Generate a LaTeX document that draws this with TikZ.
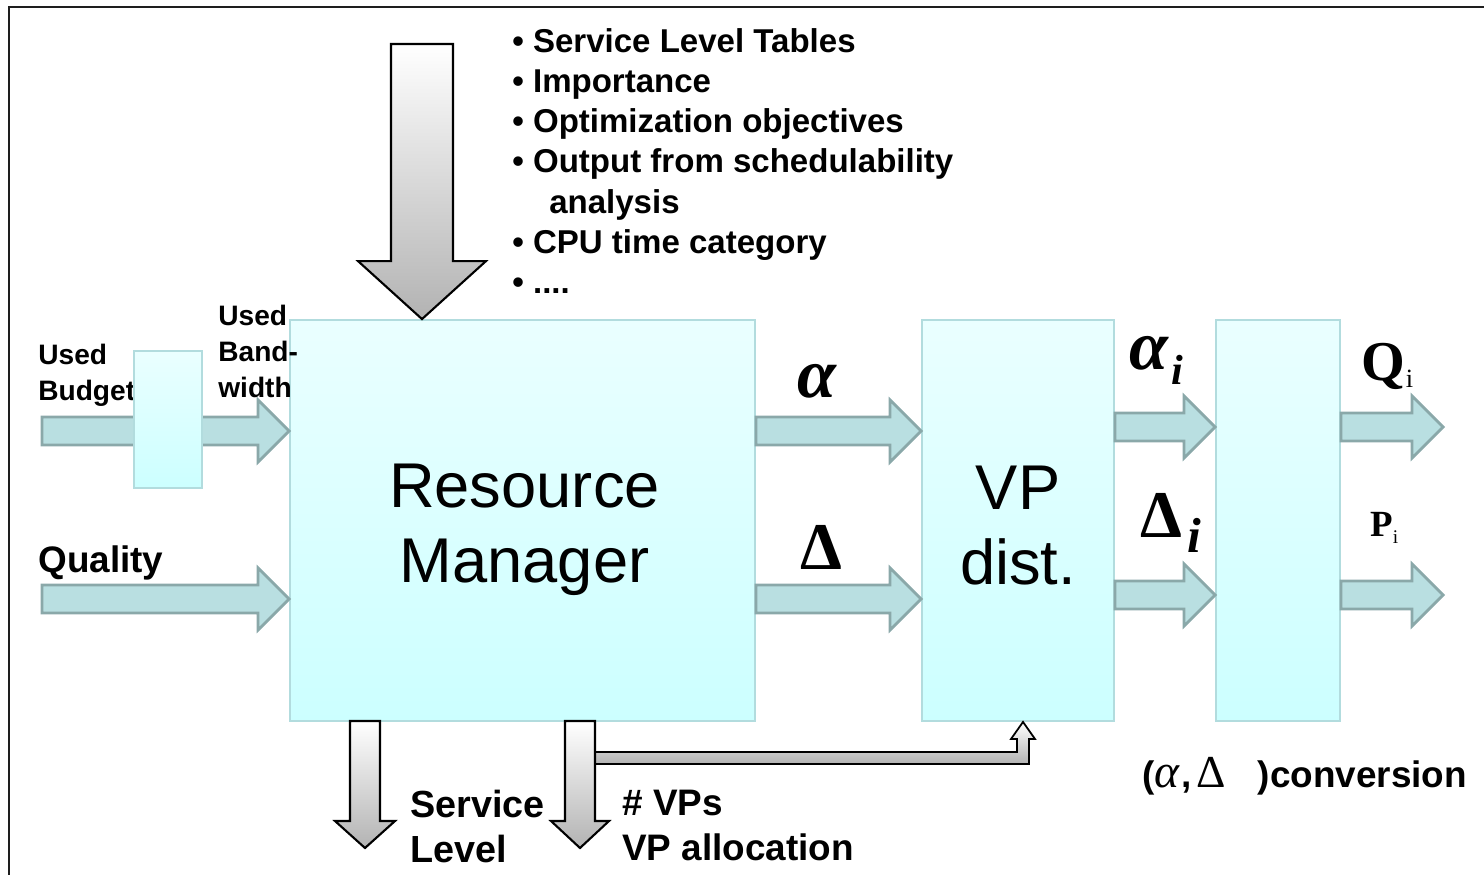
\documentclass[tikz,border=0pt]{standalone}
\usepackage{fontspec}
\setmainfont{Liberation Sans}
\newfontfamily\tms{Liberation Serif}
\usepackage{tikz}
\usetikzlibrary{arrows.meta, calc, positioning}
\definecolor{rm-top}{HTML}{EAFFFF}
\definecolor{rm-bot}{HTML}{CCFFFF}
\definecolor{rm-line}{HTML}{B2DCDE}
\definecolor{flow-fill}{HTML}{B9DFE1}
\definecolor{flow-line}{HTML}{8AA8A9}
\definecolor{frame-ink}{HTML}{1E1E1E}

% fat arrow to the right: #1 start, #2 tip
\newcommand{\blockright}[2]{%
  \draw[flowarrow] ($(#1)+(0,-14)$) -- ($(#2)+(-31,-14)$) -- ($(#2)+(-31,-31)$) -- (#2)
    -- ($(#2)+(-31,31)$) -- ($(#2)+(-31,14)$) -- ($(#1)+(0,14)$) -- cycle;}
% fat arrow downwards: #1 start, #2 tip, #3 shaft, #4 head, #5 head length
\newcommand{\blockdown}[5]{%
  \draw[greyarrow] ($(#1)+(-#3,0)$) -- ($(#2)+(-#3,-#5)$) -- ($(#2)+(-#4,-#5)$) -- (#2)
    -- ($(#2)+(#4,-#5)$) -- ($(#2)+(#3,-#5)$) -- ($(#1)+(#3,0)$) -- cycle;}

\begin{document}
\begin{tikzpicture}[x=0.02cm, y=-0.02cm, line join=miter,
    box/.style={draw=rm-line, line width=1.1pt, top color=rm-top, bottom color=rm-bot,
      inner sep=0pt, align=center},
    boxtext/.style={inner sep=0pt, align=center, font=\fontsize{36}{42.5}\selectfont},
    flowarrow/.style={draw=flow-line, line width=1.6pt, fill=flow-fill},
    greyarrow/.style={draw=black, line width=1.2pt, top color=white, bottom color=black!30},
    lbl/.style={inner sep=0pt, align=left, font=\bfseries}]
  \useasboundingbox (0,0) rectangle (1484,875);
  % ramme
  \draw[frame-ink, line width=1.7pt] (9,875) -- (9,7) -- (1484,7);

  % kasser
  \node[box, minimum width=9.3cm, minimum height=8.02cm] (rm) at (522.5,520.5) {};
  \node[boxtext] (rm-text) at ($(rm.center)+(2,9)$) {Resource\\Manager};
  \node[box, minimum width=3.84cm, minimum height=8.02cm] (vp) at (1018,520.5) {};
  \node[boxtext] (vp-text) at ($(vp.center)+(0,5)$) {VP\\dist.};
  \node[box, minimum width=2.48cm, minimum height=8.02cm] (cv) at (1278,520.5) {};

  % frie ender
  \coordinate (budget-in) at (42,431);
  \coordinate (quality-in) at (42,599);
  \coordinate (q-out) at (1443,427);
  \coordinate (p-out) at (1443,595);
  \coordinate (req-top) at (422,44);
  \coordinate (sl-top) at (365,721);
  \coordinate (vp-top) at (580,721);
  \coordinate (sl-tip) at (365,848);
  \coordinate (vp-tip) at (580,848);

  % input
  \blockright{budget-in}{budget-in -| rm.west}
  \node[lbl, anchor=north west, font=\fontsize{16}{20.3}\selectfont\bfseries]
    (budget) at (38,344) {Used\\Budget};
  \node[box, minimum width=1.36cm, minimum height=2.74cm] (bw) at (168,419.5) {};
  \node[lbl, anchor=north west, font=\fontsize{16}{20.3}\selectfont\bfseries]
    (bandwidth) at (218,305) {Used\\Band-\\width};
  \blockright{quality-in}{quality-in -| rm.west}
  \node[lbl, anchor=north west, font=\fontsize{21}{25}\selectfont\bfseries]
    (quality) at (38,545) {Quality};

  % krav ovenfra
  \blockdown{req-top}{req-top |- rm.north}{31}{64}{58}
  \node[lbl, anchor=north west, font=\fontsize{18.8}{22.9}\selectfont\bfseries] (reqs) at (512,28)
    {\textbullet\ Service Level Tables\\
     \textbullet\ Importance\\
     \textbullet\ Optimization objectives\\
     \textbullet\ Output from schedulability\\
     \hspace{21pt}analysis\\
     \textbullet\ CPU time category\\
     \textbullet\ ....};

  % alpha og delta
  \blockright{budget-in -| rm.east}{budget-in -| vp.west}
  \blockright{quality-in -| rm.east}{quality-in -| vp.west}
  \node[inner sep=0pt, anchor=base west, font=\fontsize{40}{40}\selectfont\tms\bfseries\itshape]
    (alpha) at (797,397) {α};
  \node[inner sep=0pt, anchor=base west, font=\fontsize{38}{38}\selectfont\tms\bfseries]
    (delta) at (800,569) {Δ};
  \blockright{q-out -| vp.east}{q-out -| cv.west}
  \blockright{p-out -| vp.east}{p-out -| cv.west}
  \node[inner sep=0pt, anchor=base west, font=\fontsize{40}{40}\selectfont\tms\bfseries\itshape]
    (alpha-i) at (1129,369) {α\kern2pt\raisebox{-9pt}{\fontsize{24}{24}\selectfont i}};
  \node[inner sep=0pt, anchor=base west, font=\fontsize{38}{38}\selectfont\tms\bfseries]
    (delta-i) at (1140,537) {Δ\kern3pt\raisebox{-9pt}{\fontsize{28}{28}\selectfont\itshape i}};

  % output
  \blockright{q-out -| cv.east}{q-out}
  \blockright{p-out -| cv.east}{p-out}
  \node[inner sep=0pt, anchor=base west, font=\fontsize{32}{32}\selectfont\tms\bfseries]
    (qi) at (1361,380) {Q\kern0.5pt\raisebox{-4pt}{\fontsize{15}{15}\mdseries\selectfont i}};
  \node[inner sep=0pt, anchor=base west, font=\fontsize{21}{21}\selectfont\tms\bfseries]
    (pi) at (1370,536) {P\raisebox{-4pt}{\fontsize{11}{11}\mdseries\selectfont i}};
  \node[inner sep=0pt, anchor=base west, font=\fontsize{21}{21}\selectfont\bfseries]
    (conv) at (1142,787) {({\fontsize{27}{27}\selectfont\tms\mdseries\itshape α}\kern1pt,\kern3pt%
      {\fontsize{26}{26}\selectfont\tms\mdseries Δ}\hspace{18pt})conversion};

  % nedad: service level og VP allokering
  \draw[greyarrow, line width=1pt] (595,752) -- (1017,752) -- (1017,739) -- (1011,739)
    -- ($(vp.south)+(5,0)$) -- (1035,739) -- (1029,739) -- (1029,764) -- (595,764);
  \blockdown{sl-top}{sl-tip}{15}{30}{27}
  \blockdown{vp-top}{vp-tip}{15}{29}{27}
  \node[lbl, anchor=north west, font=\fontsize{21.5}{25.5}\selectfont\bfseries]
    (sl) at (410,790) {Service\\Level};
  \node[lbl, anchor=north west, font=\fontsize{21}{25.5}\selectfont\bfseries]
    (alloc) at (622,790) {\# VPs\\VP allocation};
\end{tikzpicture}
\end{document}
